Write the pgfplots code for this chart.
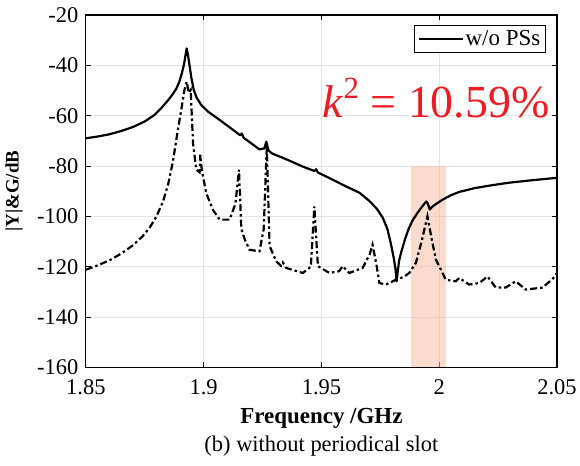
\documentclass[border=0pt]{standalone}
\usepackage{fontspec}
\setmainfont{Liberation Serif}
\usepackage{pgfplots}
\pgfplotsset{compat=1.18}
\definecolor{kred}{RGB}{236,28,36}
\definecolor{band}{RGB}{245,190,165}

\begin{document}
\begin{tikzpicture}
\begin{axis}[
    scale only axis,
    width=472pt, height=353pt,
    xmin=1.85, xmax=2.05, ymin=-160, ymax=-20,
    xtick={1.85,1.9,1.95,2,2.05},
    xticklabels={1.85,1.9,1.95,2,2.05},
    ytick={-160,-140,-120,-100,-80,-60,-40,-20},
    yticklabels={-160,-140,-120,-100,-80,-60,-40,-20},
    grid=major,
    grid style={gray!22, line width=0.9pt},
    axis line style={line width=1.1pt},
    tick style={black, line width=0.9pt},
    major tick length=5pt,
    ticklabel style={font=\fontsize{22.5}{22.5}\selectfont},
    xticklabel style={yshift=-9pt},
    yticklabel style={xshift=-4pt},
    legend style={at={(rel axis cs:0.976,0.972)}, anchor=north east, draw=black, line width=0.9pt,
        font=\fontsize{23}{23}\selectfont, inner sep=3pt, row sep=0pt},
    legend cell align=left,
    legend image code/.code={\draw[#1, line width=2.2pt] (0pt,0pt) -- (44pt,0pt);},
]
% highlighted band
\addplot[draw=none, fill=band, fill opacity=0.55, forget plot]
    coordinates {(1.988,-160) (1.988,-80) (2.0028,-80) (2.0028,-160)} -- cycle;

% |Y| solid
\addplot[black, line width=2.2pt, line join=round] coordinates {
(1.85,-69.0) (1.855,-68.3) (1.86,-67.4) (1.865,-66.1) (1.87,-64.5) (1.875,-62.3)
(1.8790,-59.8) (1.8820,-57.0) (1.8850,-53.8) (1.8870,-51.3) (1.8884,-49.3)
(1.8897,-46.5) (1.8908,-43.0) (1.8917,-39.5) (1.8923,-36.0) (1.8928,-33.3)
(1.8934,-36.2) (1.8940,-40.0) (1.8948,-45.0) (1.8958,-49.8) (1.8970,-52.8)
(1.8990,-55.8) (1.9020,-58.5) (1.9068,-61.7) (1.9120,-65.3) (1.9155,-67.8)
(1.9162,-67.1) (1.9170,-68.8) (1.9237,-73.4) (1.9258,-73.0) (1.9266,-70.3)
(1.9275,-73.8) (1.9290,-75.0) (1.9350,-77.3) (1.9420,-80.2) (1.9470,-82.0)
(1.9477,-81.3) (1.9485,-82.6) (1.9534,-84.8) (1.9604,-88.1) (1.9661,-90.6)
(1.9700,-93.6) (1.9717,-95.2) (1.9735,-97.0) (1.9760,-100.5) (1.9780,-105.0)
(1.9795,-111.0) (1.9808,-117.0) (1.9815,-121.5) (1.9819,-125.8) (1.9825,-121.0)
(1.9830,-117.5) (1.9840,-113.8) (1.9855,-109.0) (1.9870,-105.0) (1.9887,-101.6)
(1.9910,-98.3) (1.9930,-95.8) (1.9945,-94.1) (1.9952,-95.0) (1.9960,-97.3)
(1.9970,-96.2) (1.9985,-95.2) (2.0014,-93.4) (2.0050,-91.6) (2.0085,-90.3)
(2.0150,-88.8) (2.0226,-87.6) (2.0300,-86.6) (2.0400,-85.6) (2.0500,-84.7)
};
\addlegendentry{w/o PSs}

% G dash-dot
\addplot[black, line width=2.2pt, dash pattern=on 7pt off 3pt on 2.5pt off 3pt, forget plot] coordinates {
(1.85,-121.2) (1.855,-119.5) (1.8602,-117.4) (1.865,-114.8) (1.87,-111.5)
(1.874,-108.0) (1.8771,-104.5) (1.880,-100.0) (1.8828,-94.0) (1.885,-87.0)
(1.887,-78.0) (1.889,-66.0) (1.8905,-57.7) (1.8918,-50.0) (1.8928,-46.5)
(1.8937,-51.0) (1.8945,-49.8) (1.8955,-71.0) (1.8969,-81.5) (1.8983,-82.5)
(1.8986,-75.5) (1.8992,-81.5) (1.9011,-90.8) (1.9040,-97.5) (1.9068,-101.3)
(1.9110,-101.3) (1.9135,-95.0) (1.9150,-81.5) (1.9160,-105.0) (1.9175,-109.3)
(1.9195,-113.3) (1.9237,-113.9) (1.9255,-105.0) (1.9268,-72.3) (1.9280,-111.8)
(1.9308,-117.9) (1.9328,-119.6) (1.9336,-118.3) (1.9350,-120.5) (1.9421,-122.5)
(1.9455,-120.0) (1.9470,-96.1) (1.9485,-119.8) (1.9534,-122.5) (1.9575,-121.8)
(1.9590,-119.8) (1.9618,-122.5) (1.9675,-120.5) (1.9705,-115.0) (1.9717,-111.3)
(1.9735,-120.0) (1.9746,-126.5) (1.9774,-127.1) (1.9816,-125.2) (1.9850,-124.0)
(1.9873,-122.5) (1.9901,-118.5) (1.9925,-110.0) (1.9950,-100.0) (1.9970,-110.0)
(1.9986,-117.2) (2.0028,-125.2) (2.0070,-125.8) (2.0085,-124.5) (2.0127,-127.1)
(2.0170,-126.5) (2.0205,-123.9) (2.0240,-128.3) (2.0282,-128.3) (2.0325,-125.8)
(2.0367,-129.1) (2.0438,-128.3) (2.0480,-125.0) (2.0500,-122.5)
};

\node[text=kred, font=\fontsize{46}{46}\selectfont, anchor=center]
    at (axis cs:1.9987,-53) {\textit{k}\raisebox{0.42em}{\fontsize{31}{31}\selectfont 2} = 10.59\%};
\end{axis}
\node[font=\bfseries\fontsize{23}{23}\selectfont, anchor=center] at ([yshift=-51pt]current axis.south) {Frequency /GHz};
\node[font=\bfseries\fontsize{19}{19}\selectfont, anchor=center, rotate=90] at ([xshift=-72pt]current axis.west) {|Y|\&G/dB};
\node[font=\fontsize{22.5}{22.5}\selectfont, anchor=center] at ([yshift=-79pt]current axis.south) {(b) without periodical slot};
\path (current axis.south west) ++(-86pt,-98pt) (current axis.north east) ++(22pt,15pt);
\end{tikzpicture}
\end{document}
